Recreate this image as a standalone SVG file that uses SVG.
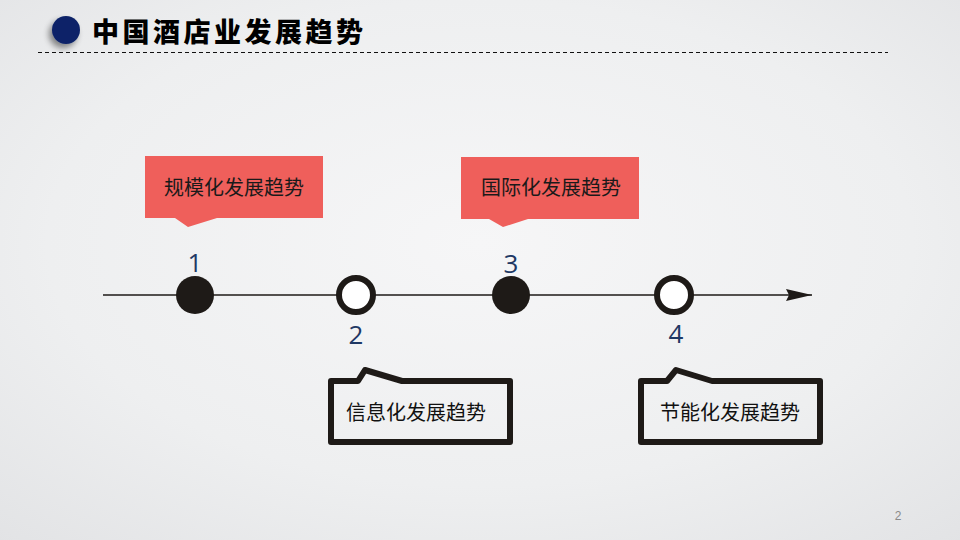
<svg xmlns="http://www.w3.org/2000/svg" width="960" height="540" viewBox="0 0 960 540">
  <defs>
    <radialGradient id="bg" cx="50%" cy="45%" r="75%">
      <stop offset="0" stop-color="#f6f6f7"/>
      <stop offset="0.6" stop-color="#eeeff0"/>
      <stop offset="1" stop-color="#e2e3e5"/>
    </radialGradient>
    <filter id="shadow" x="-50%" y="-50%" width="200%" height="200%">
      <feGaussianBlur in="SourceAlpha" stdDeviation="3"/>
      <feOffset dx="-3" dy="4"/>
      <feComponentTransfer><feFuncA type="linear" slope="0.45"/></feComponentTransfer>
      <feMerge><feMergeNode/><feMergeNode in="SourceGraphic"/></feMerge>
    </filter>
    <marker id="arrow" viewBox="0 0 26 12" refX="26" refY="6" markerWidth="26" markerHeight="12" markerUnits="userSpaceOnUse" orient="auto">
      <path d="M0,0 L26,6 L0,12 L3,6 Z" fill="#1e1a17"/>
    </marker>
    <style>
      .red { fill: #ef5f5b; }
      .redtxt { font-family: "Noto Sans CJK SC", "Liberation Sans", sans-serif; font-size: 20px; fill: #1a1a1a; text-anchor: middle; }
      .outline { fill: none; stroke: #1e1a17; stroke-width: 6; stroke-linejoin: round; }
      .boxtxt { font-family: "Noto Sans CJK SC", "Liberation Sans", sans-serif; font-size: 20px; fill: #111; text-anchor: middle; }
      .dot { fill: #1e1a17; }
      .ring { fill: #ffffff; stroke: #1e1a17; stroke-width: 6; }
      .num { font-family: "Open Sans", "Liberation Sans", sans-serif; font-size: 26px; fill: #1f3864; text-anchor: middle; }
    </style>
  </defs>

  <rect width="960" height="540" fill="url(#bg)"/>

  <g id="header">
    <circle cx="66" cy="30" r="14" fill="#0c2468" filter="url(#shadow)"/>
    <text x="92" y="42" font-family="Noto Sans CJK SC, Liberation Sans, sans-serif" font-size="27" font-weight="900" letter-spacing="3.5" fill="#000">中国酒店业发展趋势</text>
    <line x1="38" y1="52.5" x2="888" y2="52.5" stroke="#111" stroke-width="1" stroke-dasharray="4 3"/>
  </g>

  <g id="connectors">
    <line x1="103" y1="295" x2="812" y2="295" stroke="#1e1a17" stroke-width="1.5" marker-end="url(#arrow)"/>
  </g>

  <g id="node1">
    <path class="red" d="M145,156 H323 V218 H217 L188,227 L175,218 H145 Z"/>
    <text class="redtxt" x="234" y="195">规模化发展趋势</text>
    <circle class="dot" cx="195" cy="295" r="19"/>
    <text class="num" x="195" y="272">1</text>
  </g>

  <g id="node2">
    <circle class="ring" cx="356" cy="295" r="17"/>
    <text class="num" x="356" y="344">2</text>
    <path class="outline" d="M331,381 H358 L365,370 L402,381 H510 V442 H331 Z"/>
    <text class="boxtxt" x="416" y="420">信息化发展趋势</text>
  </g>

  <g id="node3">
    <path class="red" d="M461,157 H639 V219 H528 L503,227 L489,219 H461 Z"/>
    <text class="redtxt" x="551" y="195">国际化发展趋势</text>
    <circle class="dot" cx="511" cy="295" r="19"/>
    <text class="num" x="511" y="273">3</text>
  </g>

  <g id="node4">
    <circle class="ring" cx="674" cy="295" r="17"/>
    <text class="num" x="676" y="343">4</text>
    <path class="outline" d="M641,381 H667 L676,370 L712,381 H820 V442 H641 Z"/>
    <text class="boxtxt" x="730" y="420">节能化发展趋势</text>
  </g>

  <text x="898" y="520" font-family="Liberation Sans, sans-serif" font-size="12" fill="#8a8a8a" text-anchor="middle">2</text>
</svg>
